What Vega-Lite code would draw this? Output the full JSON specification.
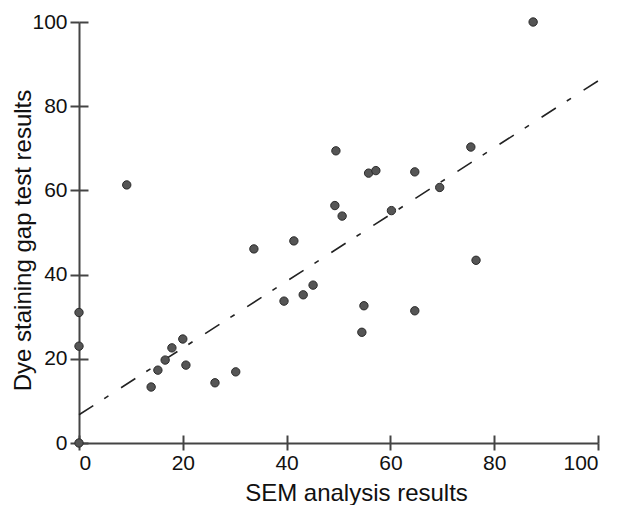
{
  "$schema": "https://vega.github.io/schema/vega-lite/v6.json",
  "width": 519,
  "height": 421,
  "autosize": "none",
  "padding": {"left": 79, "top": 22, "right": 26, "bottom": 62},
  "background": "white",
  "config": {
    "view": {"stroke": null},
    "font": "Liberation Sans",
    "axis": {
      "grid": false,
      "domainColor": "#444444",
      "domainWidth": 2,
      "tickColor": "#444444",
      "tickWidth": 2,
      "labelFont": "Liberation Sans",
      "labelFontSize": 21,
      "labelColor": "#111111",
      "titleFont": "Liberation Sans",
      "titleFontSize": 24,
      "titleFontWeight": "normal",
      "titleColor": "#111111"
    }
  },
  "datasets": {
    "points": [
      {"sem": 0, "dye": 0}, {"sem": 0, "dye": 23}, {"sem": 0, "dye": 31},
      {"sem": 9.2, "dye": 61.3}, {"sem": 13.9, "dye": 13.3}, {"sem": 15.2, "dye": 17.3},
      {"sem": 16.6, "dye": 19.7}, {"sem": 17.9, "dye": 22.6}, {"sem": 20.0, "dye": 24.7},
      {"sem": 20.6, "dye": 18.5}, {"sem": 26.2, "dye": 14.3}, {"sem": 30.2, "dye": 16.9},
      {"sem": 33.7, "dye": 46.1}, {"sem": 39.5, "dye": 33.7}, {"sem": 41.4, "dye": 48.0},
      {"sem": 43.2, "dye": 35.2}, {"sem": 45.1, "dye": 37.5}, {"sem": 49.3, "dye": 56.4},
      {"sem": 49.5, "dye": 69.4}, {"sem": 50.7, "dye": 53.9}, {"sem": 54.5, "dye": 26.3},
      {"sem": 54.9, "dye": 32.6}, {"sem": 55.8, "dye": 64.1}, {"sem": 57.2, "dye": 64.7},
      {"sem": 60.2, "dye": 55.2}, {"sem": 64.7, "dye": 64.4}, {"sem": 64.7, "dye": 31.4},
      {"sem": 69.5, "dye": 60.7}, {"sem": 75.5, "dye": 70.3}, {"sem": 76.5, "dye": 43.4},
      {"sem": 87.5, "dye": 100}
    ],
    "fit": [{"sem": 0, "dye": 6.7}, {"sem": 100, "dye": 86}]
  },
  "layer": [
    {
      "data": {"name": "fit"},
      "mark": {"type": "line", "color": "#222222", "strokeWidth": 1.6, "strokeDash": [17, 13, 5, 15]},
      "encoding": {
        "x": {"field": "sem", "type": "quantitative", "scale": {"domain": [0, 100], "nice": false},
              "axis": {"orient": "bottom", "domain": false, "labels": false, "title": null, "tickSize": -8, "values": [0, 20, 40, 60, 80, 100]}},
        "y": {"field": "dye", "type": "quantitative", "scale": {"domain": [0, 100], "nice": false},
              "axis": {"orient": "left", "domain": false, "labels": false, "title": null, "tickSize": -9, "values": [0, 20, 40, 60, 80, 100]}}
      }
    },
    {
      "data": {"name": "points"},
      "mark": {"type": "point", "filled": true, "fill": "#555555", "stroke": "#2a2a2a", "strokeWidth": 1, "size": 70, "opacity": 1},
      "encoding": {
        "x": {"field": "sem", "type": "quantitative",
              "axis": {"orient": "bottom", "title": "SEM analysis results", "tickSize": 7, "labelPadding": 2, "values": [0, 20, 40, 60, 80, 100],
                       "titleX": 277, "titleY": 57, "titleBaseline": "alphabetic"}},
        "y": {"field": "dye", "type": "quantitative",
              "axis": {"orient": "left", "title": "Dye staining gap test results", "tickSize": 9, "labelPadding": 3, "values": [0, 20, 40, 60, 80, 100],
                       "titleX": -44, "titleY": 218, "titleBaseline": "bottom"}}
      }
    }
  ],
  "resolve": {"axis": {"x": "independent", "y": "independent"}}
}
